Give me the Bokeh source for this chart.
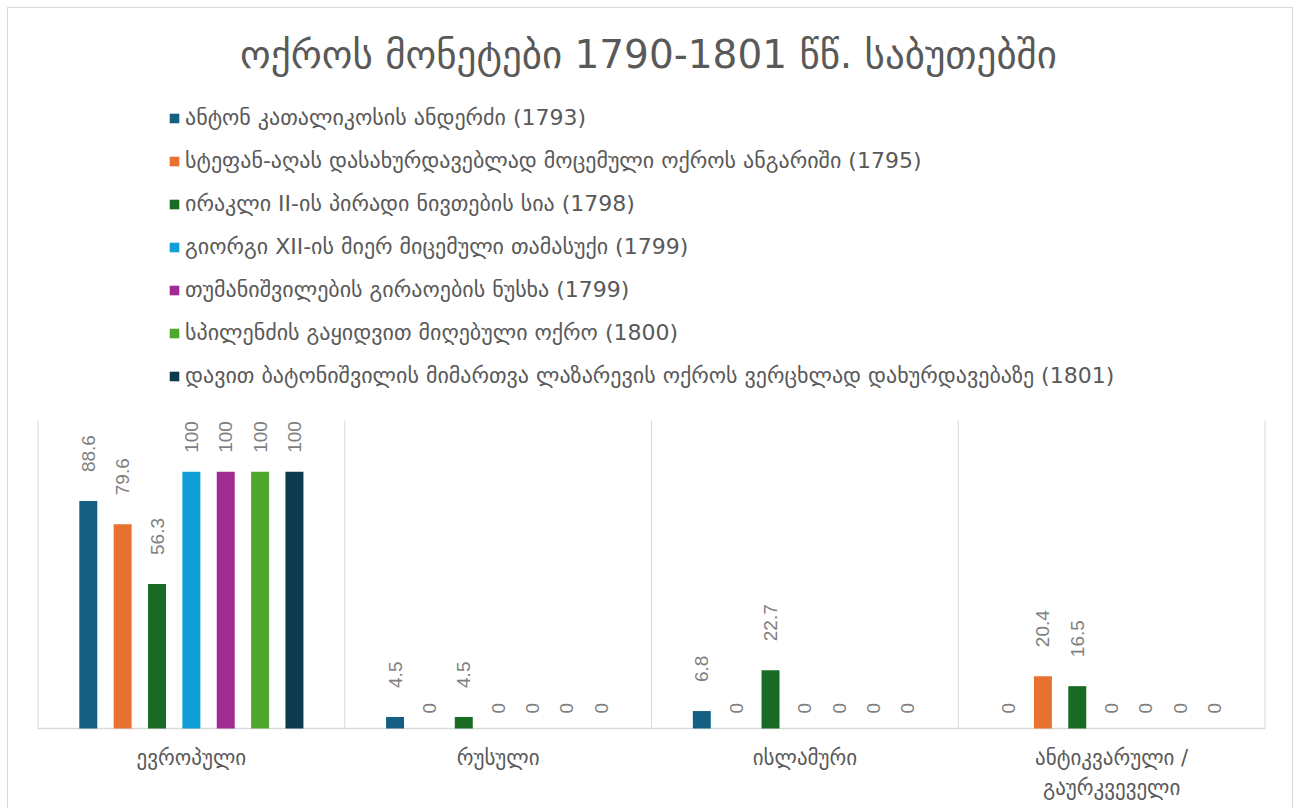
import numpy as np
from bokeh.plotting import figure
from bokeh.models import ColumnDataSource, FactorRange, Legend, LegendItem, Label
from bokeh.transform import dodge
from bokeh.core.properties import value
from bokeh.embed import file_html
from bokeh.resources import INLINE

chart_title = "ოქროს მონეტები 1790-1801 წწ. საბუთებში"
categories = ["ევროპული", "რუსული", "ისლამური", "ანტიკვარული / გაურკვეველი"]
category_labels = ["ევროპული", "რუსული", "ისლამური", "ანტიკვარული /\nგაურკვეველი"]
series_names = [
    "ანტონ კათალიკოსის ანდერძი (1793)",
    "სტეფან-აღას დასახურდავებლად მოცემული ოქროს ანგარიში (1795)",
    "ირაკლი II-ის პირადი ნივთების სია (1798)",
    "გიორგი XII-ის მიერ მიცემული თამასუქი (1799)",
    "თუმანიშვილების გირაოების ნუსხა (1799)",
    "სპილენძის გაყიდვით მიღებული ოქრო (1800)",
    "დავით ბატონიშვილის მიმართვა ლაზარევის ოქროს ვერცხლად დახურდავებაზე (1801)",
]
anton_1793 = [88.6, 4.5, 6.8, 0]
stefan_1795 = [79.6, 0, 0, 20.4]
erekle_1798 = [56.3, 4.5, 22.7, 16.5]
giorgi_1799 = [100, 0, 0, 0]
tumanishvili_1799 = [100, 0, 0, 0]
spilendzi_1800 = [100, 0, 0, 0]
davit_1801 = [100, 0, 0, 0]
series_values = [anton_1793, stefan_1795, erekle_1798, giorgi_1799,
                 tumanishvili_1799, spilendzi_1800, davit_1801]
colors = ["#156082", "#E97132", "#196B24", "#0F9ED5", "#A02B93", "#4EA72E", "#0E3A4F"]

GEO = "DejaVu Sans"
GRID = "#D9D9D9"
y_top = 120            # value at the top of the plotting area

# layout (pixels)
W, H = 1286, 801
plot_h_px = 308        # height of the value area
below_px = 81          # space below the baseline for category labels
above_px = H - below_px
ppu = plot_h_px / y_top
side_px = 29.5
pad = 2 * side_px / (W - 2 * side_px)

p = figure(x_range=FactorRange(*categories, range_padding=pad),
           y_range=(-below_px / ppu, above_px / ppu),
           width=W, height=H, output_backend="svg", toolbar_location=None,
           x_axis_location=None, y_axis_location=None, title=None,
           min_border=0, min_border_left=0, min_border_right=0,
           min_border_top=0, min_border_bottom=0)
p.styles = {"margin": "7px 0 0 7px", "border": "1px solid #D9D9D9",
            "border-bottom": "none"}
p.outline_line_color = None
p.xgrid.visible = False
p.ygrid.visible = False

# category dividers and baseline
ncat = len(categories)
p.segment(x0=list(range(ncat + 1)), y0=[0] * (ncat + 1),
          x1=list(range(ncat + 1)), y1=[y_top] * (ncat + 1),
          line_color=GRID, line_width=1)
p.segment(x0=[0], y0=[0], x1=[ncat], y1=[0], line_color=GRID, line_width=1.5)

n = len(series_values)
step = 0.112
bar_w = 0.0586
items = []
for i, (name, vals, col) in enumerate(zip(series_names, series_values, colors)):
    off = (i - (n - 1) / 2) * step
    labels = [f"{v:g}" for v in vals]
    yoff = [-15 if v == 0 else (-19 if v >= 100 else -29) for v in vals]
    src = ColumnDataSource(dict(cat=categories, val=vals, lab=labels, yoff=yoff))
    r = p.vbar(x=dodge("cat", off, range=p.x_range), top="val", width=bar_w,
               source=src, fill_color=col, line_color=None)
    p.text(x=dodge("cat", off, range=p.x_range), y="val", text="lab", source=src,
           angle=np.pi / 2, text_align="left", text_baseline="middle",
           y_offset="yoff", text_font=value("Liberation Sans"),
           text_font_size="19px", text_color="#7F7F7F")
    items.append(LegendItem(label=name, renderers=[r]))

# category labels (one row per text line)
lab_cat, lab_txt, lab_off = [], [], []
for c, lab in zip(categories, category_labels):
    for j, line in enumerate(lab.split("\n")):
        lab_cat.append(c)
        lab_txt.append(line)
        lab_off.append(17 + 30 * j)
p.text(x="cat", y=0, text="txt", y_offset="off",
       source=ColumnDataSource(dict(cat=lab_cat, txt=lab_txt, off=lab_off)),
       text_align="center", text_baseline="top", text_font=value(GEO),
       text_font_size="21px", text_color="#595959")

legend = Legend(items=items, location=(160, 420), orientation="vertical",
                glyph_width=12, glyph_height=12, label_height=27, spacing=16,
                label_standoff=5, padding=0, margin=0,
                border_line_color=None, background_fill_alpha=0,
                label_text_font=GEO, label_text_font_size="22px",
                label_text_color="#595959")
p.add_layout(legend, "center")

p.add_layout(Label(x=640, y=755, x_units="screen", y_units="screen", text=chart_title,
                   text_align="center", text_baseline="middle",
                   text_font=GEO, text_font_size="39px", text_color="#595959"))

open("out.html", "w").write(file_html(p, INLINE))
